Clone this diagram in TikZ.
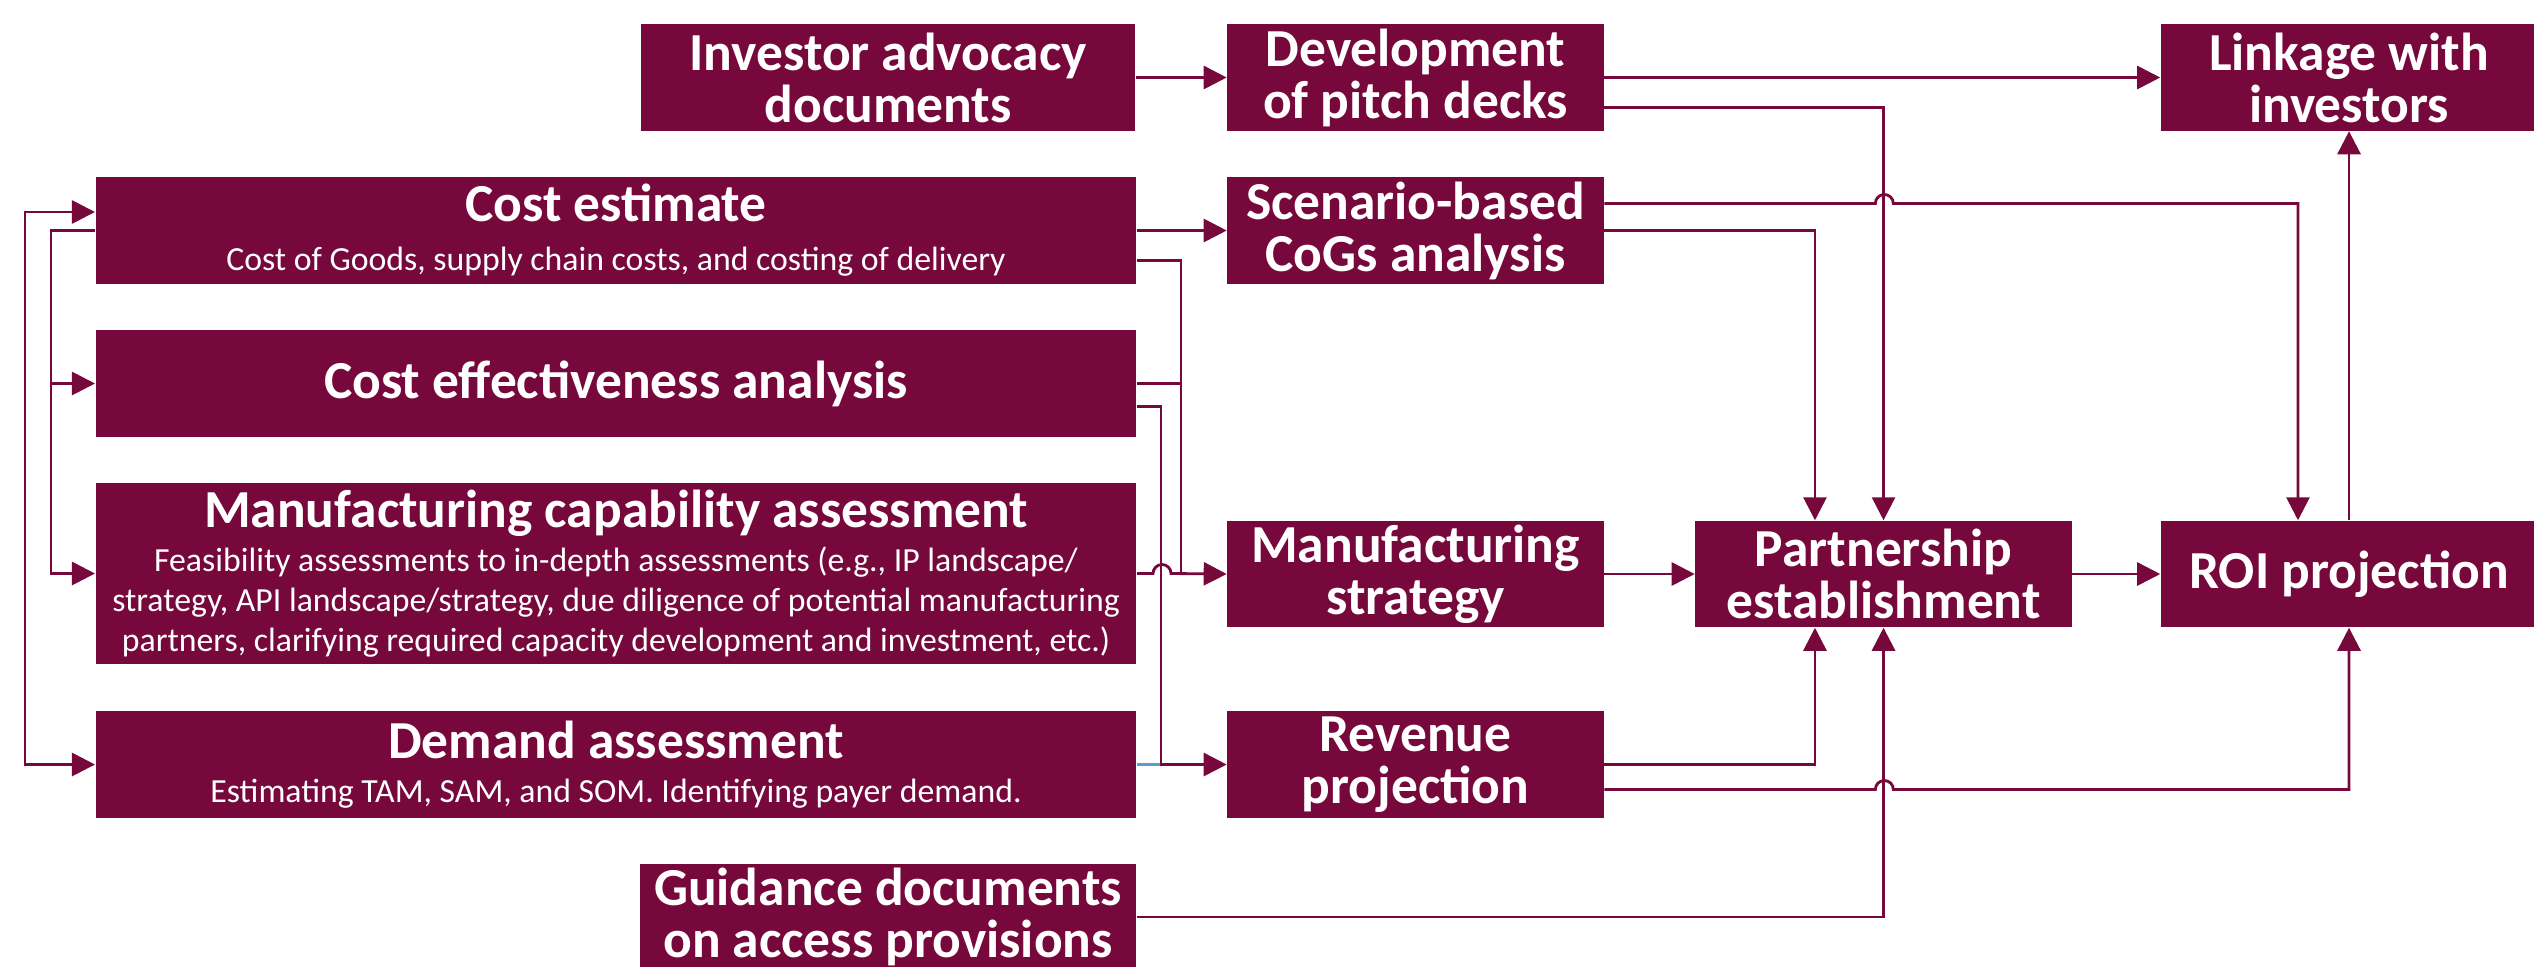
\documentclass[tikz,border=0pt]{standalone}
\usepackage{fontspec}
\setmainfont{Carlito}
\usetikzlibrary{arrows.meta}

\definecolor{wine}{RGB}{118,8,60}
\definecolor{paleblue}{RGB}{91,155,213}
\newcommand{\boxhead}{\fontsize{15.2}{14.8}\selectfont\bfseries}
\newcommand{\boxnote}{\fontsize{9.6}{11.3}\selectfont\mdseries}

\begin{document}
\begin{tikzpicture}[x=0.01cm, y=-0.01cm,
  >={Triangle[length=2.3mm, width=2.3mm]},
  box/.style = {fill=wine, text=white, inner sep=0pt, align=center,
                font=\boxhead, minimum height=1.06cm},
  small/.style = {box, minimum width=3.76cm},
  large/.style = {box, minimum width=10.4cm},
  noted/.style = {large, font=\boxnote},
  link/.style = {draw=wine, line width=0.8pt, ->},
  wire/.style = {draw=wine, line width=0.8pt},
  ]
  \useasboundingbox (0,0) rectangle (2534,966);
  \clip (0,0) rectangle (2534,966);

  % top row
  \node[box, minimum width=4.94cm] (inv) at (888,77.5) {Investor advocacy\\documents};
  \node[small] (dev) at (1415.5,77.5) {Development\\of pitch decks};
  \node[small] (link) at (2349,77.5) {Linkage with\\investors};

  % assessments on the left
  \node[noted] (cost) at (616,230.5) {\boxhead Cost estimate\\[2.6pt]
    Cost of Goods, supply chain costs, and costing of delivery};
  \node[large] (cea) at (616,383.5) {Cost effectiveness analysis};
  \node[noted, minimum height=1.81cm] (mca) at (616,573.5) {\boxhead Manufacturing capability assessment\\[1.2pt]
    Feasibility assessments to in-depth assessments (e.g., IP landscape/\\
    strategy, API landscape/strategy, due diligence of potential manufacturing\\
    partners, clarifying required capacity development and investment, etc.)};
  \node[noted] (dem) at (616,764.5) {\boxhead Demand assessment\\[1.2pt]
    Estimating TAM, SAM, and SOM. Identifying payer demand.};
  \node[box, minimum width=4.96cm] (guide) at (888,917) {Guidance documents\\on access provisions};

  % middle and right columns
  \node[small] (cogs) at (1415.5,230.5) {Scenario-based\\CoGs analysis};
  \node[small] (mfg) at (1415.5,574) {Manufacturing\\strategy};
  \node[small] (rev) at (1415.5,764.5) {Revenue\\projection};
  \node[small] (part) at (1883.5,574) {Partnership\\establishment};
  \node[small] (roi) at (2349,574) {ROI projection};

  \coordinate (jm) at (1181,574);
  \coordinate (jr) at (1161,764.5);

  % loops on the left side
  \draw[link, <->] ([yshift=1.85mm]cost.west) -- ++(-70,0) |- (dem.west);
  \draw[link] (cost.west) -- ++(-44,0) coordinate (lb) |- (mca.west);
  \draw[link] (lb |- cea.west) -- (cea.west);

  % into the middle column
  \draw[link] (inv.east) -- (dev.west);
  \draw[link] (cost.east) -- (cogs.west);
  \draw[wire] ([yshift=-3mm]cost.east) -| (jm);
  \draw[wire] (cea.east) -- (cea.east -| jm);
  \draw[wire, paleblue] (dem.east) -- (jr);
  \draw[link] ([yshift=-2.3mm]cea.east) -| (jr) -- (rev.west);
  \draw[link] (mca.east) -- ++(16,0) arc[start angle=180, end angle=0, radius=0.09cm] -- (mfg.west);

  % towards partnership, ROI and investors
  \draw[link] (dev.east) -- (link.west);
  \draw[link] ([yshift=-3mm]dev.east) -| (part.north);
  \draw[link] ([yshift=2.7mm]cogs.east) -- ++(271,0) arc[start angle=180, end angle=0, radius=0.09cm] -| ([xshift=-5.1mm]roi.north);
  \draw[link] (cogs.east) -| ([xshift=-6.85mm]part.north);
  \draw[link] (mfg.east) -- (part.west);
  \draw[link] (part.east) -- (roi.west);
  \draw[link] (roi.north) -- (link.south);
  \draw[link] (rev.east) -| ([xshift=-6.85mm]part.south);
  \draw[link] ([yshift=-2.5mm]rev.east) -- ++(271,0) arc[start angle=180, end angle=0, radius=0.09cm] -| (roi.south);
  \draw[link] (guide.east) -| (part.south);
\end{tikzpicture}
\end{document}
